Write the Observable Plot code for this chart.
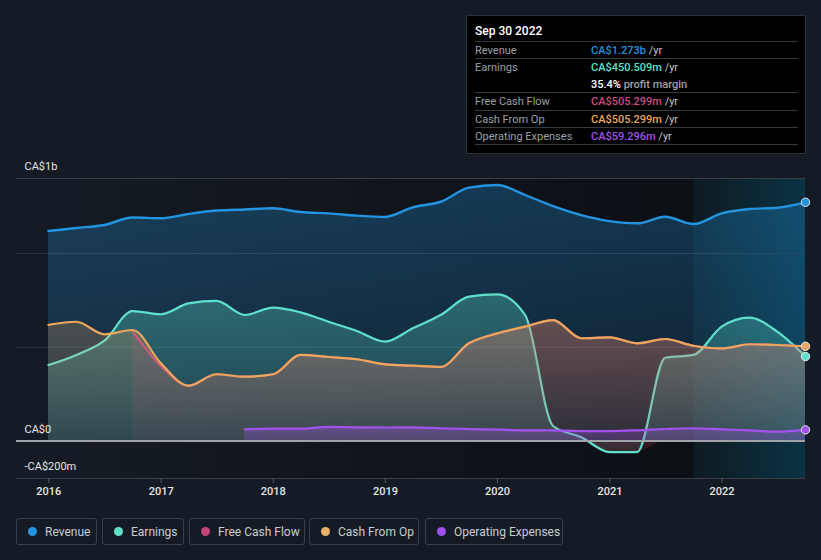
<!DOCTYPE html>
<html>
<head>
<meta charset="utf-8">
<script src="https://cdn.jsdelivr.net/npm/d3@7"></script>
<script src="https://cdn.jsdelivr.net/npm/@observablehq/plot@0.6"></script>
<style>
  body { margin: 0; background: #151b24; font-family: Roboto, "Noto Sans", sans-serif; }
  #wrap { position: relative; width: 821px; height: 560px; overflow: hidden; }
  #chart svg { display: block; }
  #tip { position: absolute; left: 466px; top: 15px; width: 340px; height: 139px; box-sizing: border-box;
         background: #000; border: 1px solid #2c2f35; padding: 0 7px 0 8px; font-size: 11px; }
  #tip .title { height: 25px; line-height: 31px; color: #fff; font-size: 12px; font-weight: 500; }
  #tip .row { display: flex; border-top: 1px solid #36393e; height: 16.3px; line-height: 17px; }
  #tip .row.tall { height: 33px; flex-direction: column; }
  #tip .row.last { border-bottom: 1px solid #36393e; }
  #tip .line { display: flex; height: 17px; }
  #tip .lab { width: 116px; color: #9da1a8; }
  #tip .val { font-weight: 500; }
  #tip .unit { color: #c4c6ca; font-weight: 400; }
  #legend { position: absolute; top: 518px; left: 0; height: 27px; }
  .lg { position: absolute; top: 0; height: 27px; box-sizing: border-box; border: 1px solid #3b3f48; border-radius: 3px;
        display: flex; align-items: center; padding-left: 11px; font-size: 12px; color: #c9ccd2; }
  .lg i { display: inline-block; width: 9px; height: 9px; border-radius: 50%; margin-right: 8px; }
</style>
</head>
<body>
<div id="wrap">
  <div id="chart"></div>
  <div id="tip">
    <div class="title">Sep 30 2022</div>
    <div class="row"><span class="lab">Revenue</span><span class="val" style="color:#2394df">CA$1.273b <span class="unit">/yr</span></span></div>
    <div class="row tall">
      <div class="line"><span class="lab">Earnings</span><span class="val" style="color:#5fe0cc">CA$450.509m <span class="unit">/yr</span></span></div>
      <div class="line"><span class="lab"></span><span class="val" style="color:#fff">35.4% <span class="unit" style="color:#9da1a8;font-weight:500">profit margin</span></span></div>
    </div>
    <div class="row"><span class="lab">Free Cash Flow</span><span class="val" style="color:#cc4d85">CA$505.299m <span class="unit">/yr</span></span></div>
    <div class="row"><span class="lab">Cash From Op</span><span class="val" style="color:#eba75c">CA$505.299m <span class="unit">/yr</span></span></div>
    <div class="row last"><span class="lab">Operating Expenses</span><span class="val" style="color:#a452ee">CA$59.296m <span class="unit">/yr</span></span></div>
  </div>
  <div id="legend"></div>
</div>
<script>
// Trailing-twelve-month figures (CA$ millions), one value per quarter end,
// from Dec 31 2015 to Sep 30 2022. null = not reported for that quarter.
const revenue = [1120, 1136, 1152, 1192, 1188, 1211, 1229, 1235, 1241, 1221, 1214, 1202, 1195, 1246,
                 1276, 1351, 1365, 1312, 1253, 1205, 1173, 1161, 1196, 1157, 1214, 1237, 1244, 1273];
const earnings = [405, 459, 535, 693, 676, 734, 747, 672, 711, 686, 636, 587, 530, 601,
                  672, 770, 782, 672, 80, 20, -59, -59, 444, 459, 610, 658, 583, 450.5];
const cashFromOp = [619, 636, 569, 592, 414, 295, 356, 343, 356, 459, 448, 436, 409, 402,
                    395, 521, 574, 610, 645, 548, 553, 521, 544, 508, 494, 516, 512, 505.3];
const freeCashFlow = [null, null, null, 585, 400, 295, 356, 343, 356, 459, 448, 436, 409, 402,
                      395, 521, 574, 610, 645, 548, 553, 521, 544, 508, 494, 516, 512, 505.3];
const opex = [null, null, null, null, null, null, null, 62, 66, 66, 75, 73, 72, 73,
              68, 64, 61, 57, 57, 53, 53, 57, 64, 68, 62, 57, 50, 59.3];

// Axis labels
const yTicks = [1400, 0, -200];
const yTickLabels = ["CA$1b", "CA$0", "-CA$200m"];
const gridValues = [1400, 1000, 500, -200];

// Last-twelve-months window
const windowStart = new Date(Date.UTC(2021, 8, 30));
const windowEnd = new Date(Date.UTC(2022, 8, 30));
const seriesStart = new Date(Date.UTC(2015, 11, 31));

// Legend
const legendNames = ["Revenue", "Earnings", "Free Cash Flow", "Cash From Op", "Operating Expenses"];
const legendColors = ["#2394df", "#5fe0cc", "#c2457a", "#e8b06a", "#9d4ff0"];

// quarter-end dates
const dates = revenue.map((_, i) => d3.utcDay.offset(d3.utcMonth.offset(new Date(Date.UTC(2016, 0, 1)), 3 * i), -1));
const toRows = (vals) => vals.map((v, i) => ({date: dates[i], value: v})).filter(d => d.value != null);

const series = [
  {key: "rev", rows: toRows(revenue), color: "#2394df", top: 0.30, bottom: 0.12, width: 2.4},
  {key: "earn", rows: toRows(earnings), color: "#5fe0cc", top: 0.32, bottom: 0.12, width: 2.2},
  {key: "fcf", rows: toRows(freeCashFlow), color: "#c84a7e", top: 0.22, bottom: 0.08, width: 2.2},
  {key: "cfo", rows: toRows(cashFromOp), color: "#eba75c", top: 0.24, bottom: 0.07, width: 2.2},
  {key: "opex", rows: toRows(opex), color: "#a452ee", top: 0.35, bottom: 0.22, width: 2.2}
];
const negEarnings = earnings.map((v, i) => ({date: dates[i], value: Math.min(v, 0)})).slice(18, 24);

function defs() {
  const d = d3.create("svg:defs");
  for (const s of series) {
    const g = d.append("linearGradient").attr("id", "g-" + s.key).attr("x1", 0).attr("x2", 0).attr("y1", 0).attr("y2", 1);
    g.append("stop").attr("offset", 0).attr("stop-color", s.color).attr("stop-opacity", s.top);
    g.append("stop").attr("offset", 1).attr("stop-color", s.color).attr("stop-opacity", s.bottom);
  }
  const bg = d.append("linearGradient").attr("id", "g-bg").attr("x1", 0).attr("x2", 1).attr("y1", 0).attr("y2", 0);
  bg.append("stop").attr("offset", 0).attr("stop-color", "#151b24");
  bg.append("stop").attr("offset", 1).attr("stop-color", "#0c0f14");
  const hl = d.append("linearGradient").attr("id", "g-hl").attr("x1", 0).attr("x2", 1).attr("y1", 0).attr("y2", 0);
  hl.append("stop").attr("offset", 0).attr("stop-color", "#0e1a21");
  hl.append("stop").attr("offset", 1).attr("stop-color", "#0a3344");
  return d.node();
}

const marks = [
  defs,
  Plot.rectY([0], {x1: seriesStart, x2: windowStart, y1: -200, y2: 1400, fill: "url(#g-bg)"}),
  Plot.rectY([0], {x1: windowStart, x2: windowEnd, y1: -200, y2: 1400, fill: "url(#g-hl)"}),
  Plot.ruleY(gridValues, {stroke: d => (d === 1000 || d === 500) ? "#2a323d" : "#3a3f47", strokeWidth: 1, insetLeft: -32})
];

for (const s of series) {
  marks.push(Plot.areaY(s.rows, {x: "date", y: "value", fill: `url(#g-${s.key})`, curve: "monotone-x"}));
  if (s.key === "earn") {
    marks.push(Plot.areaY(negEarnings, {x: "date", y: "value", fill: "#c23a4a", fillOpacity: 0.2, curve: "monotone-x"}));
  }
  marks.push(Plot.lineY(s.rows, {x: "date", y: "value", stroke: s.color, strokeWidth: s.width, curve: "monotone-x"}));
}

marks.push(
  Plot.ruleY([0], {stroke: "#a0a4aa", strokeWidth: 2, insetLeft: -32}),
  Plot.text(yTicks, {y: d => d, text: (d, i) => yTickLabels[i], frameAnchor: "left", dx: -24, dy: -12,
                     textAnchor: "start", fill: "#e6e6e6", fontSize: 11}),
  Plot.axisX({ticks: d3.utcYear.every(1), tickFormat: "%Y", tickSize: 5, tickPadding: 4, stroke: "#555b64",
              fill: "#e6e6e6", fontSize: 11, fontWeight: 500, label: null}),
  Plot.dot(series.filter(s => s.key !== "fcf").map(s => s.rows[s.rows.length - 1]), {
    x: "date", y: "value", r: 4.2, stroke: "#e8e8e8", strokeWidth: 1,
    fill: (d) => series.find(s => s.rows[s.rows.length - 1] === d).color
  })
);

const chart = Plot.plot({
  width: 821,
  height: 505,
  marginTop: 178,
  marginBottom: 27,
  marginLeft: 48,
  marginRight: 16,
  style: {background: "transparent", color: "#e6e6e6", fontFamily: "Roboto, sans-serif", fontSize: "11px"},
  x: {type: "utc", domain: [seriesStart, windowEnd], axis: null},
  y: {domain: [-200, 1400], axis: null},
  marks
});
document.getElementById("chart").append(chart);

// Legend boxes
const legendLeft = [16, 102, 189, 309, 425];
const legendWidth = [81, 82, 116, 110, 138];
const lg = document.getElementById("legend");
legendNames.forEach((name, i) => {
  const b = document.createElement("div");
  b.className = "lg";
  b.style.left = legendLeft[i] + "px";
  b.style.width = legendWidth[i] + "px";
  b.innerHTML = `<i style="background:${legendColors[i]}"></i>${name}`;
  lg.append(b);
});
</script>
</body>
</html>
